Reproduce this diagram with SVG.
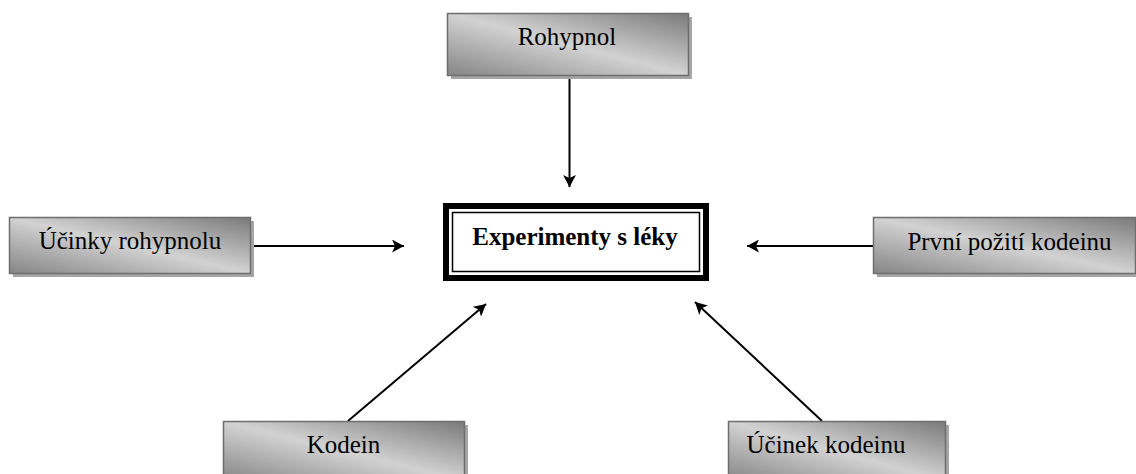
<svg xmlns="http://www.w3.org/2000/svg" width="1136" height="474" viewBox="0 0 1136 474">
<style>
.box{fill:url(#g);stroke:#6e6e6e;stroke-width:1.5}
.sh{fill:#a6a6a6}
.t{font-family:"Liberation Serif","Times New Roman",serif;font-size:25px;fill:#000;text-anchor:middle}
.b{font-weight:bold}
.c{stroke:#000;stroke-width:2;fill:none;marker-end:url(#ah)}
</style>
<defs>
<linearGradient id="g" x1="1" y1="0" x2="0" y2="1">
<stop offset="0" stop-color="#7a7a7a"/>
<stop offset="0.5" stop-color="#d2d2d2"/>
<stop offset="1" stop-color="#858585"/>
</linearGradient>
<marker id="ah" markerWidth="12" markerHeight="13" refX="12" refY="6.5" orient="auto" markerUnits="userSpaceOnUse">
<path d="M0,0 L12,6.5 L0,13 L3,6.5 Z" fill="#000"/>
</marker>
</defs>
<rect width="1136" height="474" fill="#fff"/>
<g id="connectors">
<line class="c" x1="569.5" y1="76" x2="569.5" y2="187"/>
<line class="c" x1="251" y1="246" x2="404" y2="246"/>
<line class="c" x1="873" y1="246" x2="747" y2="246"/>
<line class="c" x1="348" y1="421" x2="486" y2="304"/>
<line class="c" x1="822" y1="421" x2="695" y2="302"/>
</g>
<g id="center">
<rect x="446" y="206" width="260" height="72" fill="#fff" stroke="#000" stroke-width="6"/>
<rect x="452.5" y="212.5" width="247" height="59" fill="none" stroke="#000" stroke-width="1.5"/>
<text class="t b" x="575" y="245">Experimenty s léky</text>
</g>
<g id="rohypnol">
<rect class="sh" x="451" y="17" width="241" height="62"/>
<rect class="box" x="447.5" y="13.5" width="241" height="62"/>
<text class="t" x="567" y="45">Rohypnol</text>
</g>
<g id="ucinky-rohypnolu">
<rect class="sh" x="13" y="221" width="241" height="56"/>
<rect class="box" x="9.5" y="217.5" width="241" height="56"/>
<text class="t" x="130" y="249">Účinky rohypnolu</text>
</g>
<g id="prvni-poziti-kodeinu">
<rect class="sh" x="877" y="221" width="260" height="56"/>
<rect class="box" x="873.5" y="217.5" width="262" height="56"/>
<text class="t" x="1009.5" y="250">První požití kodeinu</text>
</g>
<g id="kodein">
<rect class="sh" x="227" y="425" width="241" height="60"/>
<rect class="box" x="223.5" y="421.5" width="241" height="60"/>
<text class="t" x="343.5" y="453">Kodein</text>
</g>
<g id="ucinek-kodeinu">
<rect class="sh" x="732" y="425" width="217" height="60"/>
<rect class="box" x="728.5" y="421.5" width="217" height="60"/>
<text class="t" x="826" y="453">Účinek kodeinu</text>
</g>
</svg>
